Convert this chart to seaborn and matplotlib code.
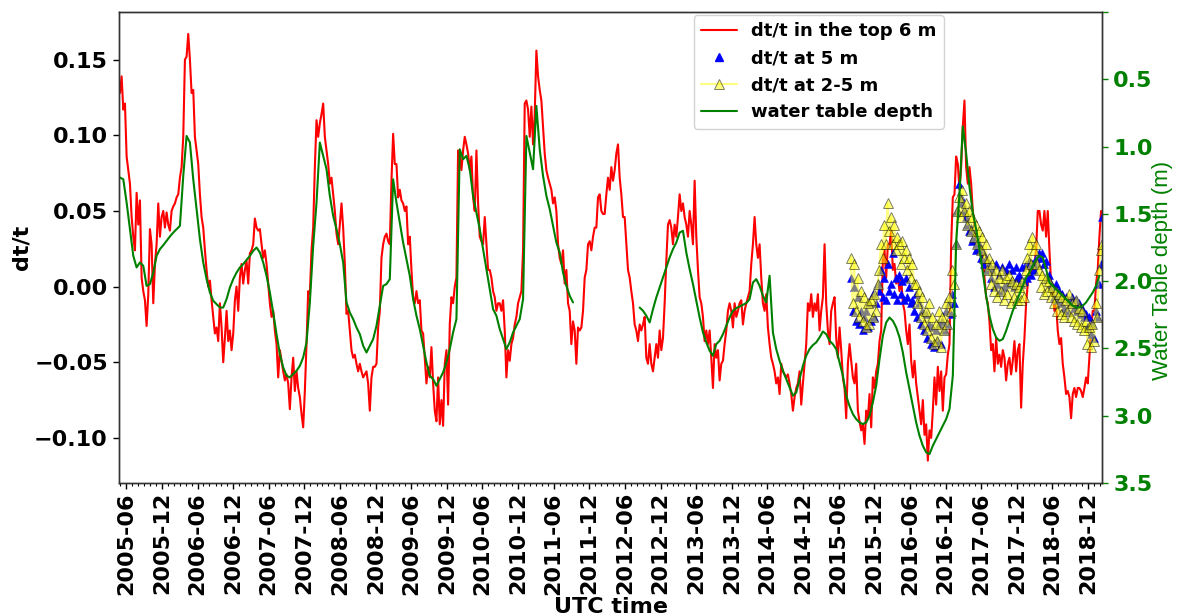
import numpy as np
import pandas as pd
import matplotlib
matplotlib.use("Agg")
import matplotlib.pyplot as plt
import matplotlib.dates as mdates
from matplotlib.lines import Line2D
import seaborn as sns

# ---------------------------------------------------------------------------
# Records (regularly sampled): start date and sampling step of each series
# ---------------------------------------------------------------------------
top6m_start, top6m_step = "2005-04-29", "205h"     # ~8.5 days
wt_start, wt_step = "2005-04-29", "410h"           # ~17 days
probe_start, probe_step = "2015-08-03", "205h"     # ~8.5 days

# dt/t averaged over the top 6 m
dtt_top6m = [
    0.128, 0.139, 0.117,
    0.121, 0.086, 0.077, 0.068, 0.046, 0.033, 0.024, 0.062, 0.041, 0.057,
    0.006, -0.003, -0.009, -0.026, -0.005, 0.038, 0.028, -0.011, 0.015, 0.028,
    0.055, 0.033, 0.046, 0.050, 0.039, 0.049, 0.041, 0.037, 0.050, 0.053,
    0.055, 0.059, 0.061, 0.072, 0.079, 0.099, 0.150, 0.152, 0.167, 0.150,
    0.128, 0.130, 0.099, 0.090, 0.081, 0.061, 0.046, 0.039, 0.024, 0.011,
    0.000, 0.004, -0.009, -0.020, -0.031, -0.027, -0.036, -0.011, -0.027, -0.050,
    -0.034, -0.016, -0.036, -0.029, -0.042, -0.031, -0.009, 0.000, -0.016, 0.006,
    0.015, 0.002, 0.011, 0.017, 0.002, 0.022, 0.024, 0.028, 0.045, 0.039,
    0.037, 0.038, 0.028, 0.019, 0.024, 0.015, 0.002, -0.011, -0.020, -0.016,
    -0.029, -0.038, -0.060, -0.042, -0.049, -0.056, -0.062, -0.058, -0.064, -0.081,
    -0.060, -0.047, -0.069, -0.056, -0.067, -0.073, -0.084, -0.093, -0.069, -0.038,
    -0.003, -0.005, 0.024, 0.039, 0.079, 0.110, 0.099, 0.108, 0.114, 0.121,
    0.099, 0.090, 0.081, 0.068, 0.072, 0.061, 0.050, 0.035, 0.028, 0.041,
    0.055, 0.039, 0.015, -0.018, -0.016, -0.029, -0.042, -0.047, -0.045, -0.051,
    -0.056,
    -0.051, -0.056, -0.060, -0.058, -0.056, -0.064, -0.082, -0.060, -0.053, -0.053,
    -0.051, -0.027, -0.016, 0.019, 0.028, 0.033, 0.035, 0.030, 0.028, 0.070,
    0.101, 0.081, 0.081, 0.059, 0.064, 0.057, 0.055, 0.050, 0.053, 0.028,
    0.033, 0.011, -0.007, -0.011, -0.003, -0.011, -0.009, -0.029, -0.031, -0.047,
    -0.064, -0.053, -0.060, -0.040, -0.064, -0.082, -0.089, -0.060, -0.091, -0.075,
    -0.092, -0.051, -0.042, -0.078, -0.025, -0.007, -0.011, 0.000, 0.006, 0.090,
    0.086, 0.077, 0.090, 0.099, 0.094, 0.088, 0.077, 0.086, 0.059, 0.050,
    0.090, 0.055, 0.033, 0.030, 0.028, 0.046, 0.028, 0.011, 0.011, 0.006,
    -0.003, -0.007, -0.016, -0.011, -0.011, -0.016, -0.009, -0.029, -0.060, -0.042,
    -0.049, -0.038, -0.034, -0.025, -0.020, -0.011, -0.007, -0.003, 0.024, 0.121,
    0.123, 0.117, 0.099, 0.119, 0.094, 0.114, 0.156, 0.139, 0.130, 0.123,
    0.106, 0.088, 0.077, 0.072, 0.068, 0.064, 0.055, 0.059, 0.050, 0.028,
    0.019, 0.015, 0.024, 0.002, 0.011, -0.011, -0.016, -0.038, -0.023, -0.029,
    -0.051, -0.027, -0.029, -0.027, -0.016, 0.006, 0.011, 0.028, 0.030, 0.024,
    0.033, 0.039, 0.039, 0.059, 0.061, 0.050, 0.048,
    0.048, 0.061, 0.072, 0.064, 0.079, 0.070, 0.077, 0.088, 0.094, 0.072,
    0.061, 0.046, 0.046, 0.028, 0.011, 0.006, -0.003, -0.011, -0.025, -0.029,
    -0.036, -0.025, -0.029, -0.025, -0.020, -0.047, -0.051, -0.038, -0.051, -0.056,
    -0.047, -0.038, -0.047, -0.029, -0.042, -0.034, -0.011, 0.017, 0.041, 0.044,
    0.039, 0.028, 0.041, 0.033, 0.046, 0.061, 0.050, 0.055, 0.046, 0.041,
    0.033, 0.050, 0.041, 0.028, 0.070, 0.033, 0.011, -0.007, -0.011, -0.020,
    -0.036, -0.029, -0.038, -0.029, -0.047, -0.067, -0.038, -0.047, -0.042, -0.062,
    -0.051, -0.049, -0.038, -0.029, -0.016, -0.011, -0.016, -0.027, -0.011, -0.020,
    -0.016, -0.011, -0.009, -0.025, -0.016, -0.011, -0.007, -0.003, 0.015, 0.028,
    0.046, 0.028, 0.019, 0.028, 0.006, -0.011, -0.016, -0.005, -0.027, -0.038,
    -0.047, -0.051, -0.056, -0.064, -0.060, -0.071, -0.051, -0.056, -0.058, -0.060,
    -0.058, -0.064, -0.071, -0.082, -0.073, -0.067, -0.064, -0.056, -0.078, -0.064,
    -0.051, -0.038, -0.011, -0.016, -0.005, -0.020, -0.011, -0.016, -0.005, -0.029,
    -0.016, -0.007, 0.028, -0.011, -0.029, -0.038, -0.016, -0.011, -0.007, -0.034,
    -0.047, -0.027, -0.042, -0.060, -0.067, -0.087, -0.051,
    -0.038, -0.049, -0.060, -0.064, -0.051, -0.082, -0.089, -0.095, -0.091, -0.104,
    -0.082, -0.087, -0.071, -0.093, -0.060, -0.067, -0.056, -0.051, -0.036, -0.029,
    0.019, 0.024, 0.006, 0.028, 0.028, 0.037, 0.011, 0.015, 0.002, 0.006,
    -0.003, 0.006, -0.011, -0.016, -0.029, -0.038, -0.025, -0.049, -0.060, -0.049,
    -0.064, -0.073, -0.082, -0.091, -0.075, -0.098, -0.091, -0.115, -0.095, -0.100,
    -0.082, -0.060, -0.078, -0.053, -0.069, -0.056, -0.082, -0.060, -0.058, -0.045,
    -0.038, 0.028, 0.059, 0.061, 0.086, 0.081, 0.064, 0.079, 0.106, 0.123,
    0.079, 0.068, 0.079, 0.068, 0.050, 0.041, 0.037, 0.028, 0.030, 0.024,
    0.019, 0.006, -0.007, -0.011, -0.023, -0.042, -0.038, -0.056, -0.034, -0.051,
    -0.045, -0.053, -0.042, -0.047, -0.062, -0.051, -0.047, -0.058, -0.049, -0.036,
    -0.056, -0.042, -0.038, -0.080, -0.051, -0.034, -0.011, 0.002, 0.011, 0.008,
    0.015, 0.015, 0.024, 0.050, 0.050, 0.041, 0.037, 0.050, 0.033, 0.050,
    0.024, 0.002, -0.005, -0.016, -0.011, -0.029, -0.038, -0.034, -0.051, -0.060,
    -0.071, -0.069, -0.073, -0.087, -0.071, -0.067, -0.073, -0.067, -0.067, -0.069,
    -0.073, -0.067, -0.060, -0.064, -0.047, -0.029, -0.016, -0.016, 0.002, 0.011,
    0.033, 0.050,
]

# water table depth (m); nan marks the gap in the record
nan = np.nan
water_table_depth = [
    1.230, 1.243, 1.416, 1.614, 1.812, 1.898, 1.861, 1.886, 2.035, 2.022,
    1.936, 1.812, 1.762, 1.733, 1.700, 1.668, 1.639, 1.614, 1.589, 1.218,
    0.921, 0.970, 1.243, 1.465, 1.688, 1.861, 1.985, 2.084, 2.146, 2.171,
    2.196, 2.196, 2.134, 2.047, 1.985, 1.936, 1.898, 1.874, 1.842, 1.812,
    1.775, 1.750, 1.787, 1.861, 1.960, 2.084, 2.233, 2.394, 2.542, 2.641,
    2.703, 2.715, 2.691, 2.666, 2.629, 2.567, 2.455, 2.158, 1.738, 1.416,
    0.970, 1.069, 1.168, 1.366, 1.515, 1.614, 1.725, 1.861, 2.158, 2.233,
    2.282, 2.344, 2.394, 2.480, 2.530, 2.480, 2.431, 2.332, 2.183, 2.035,
    2.022, 1.985, 1.243, 1.416, 1.564, 1.713, 1.837, 1.960, 2.134, 2.257,
    2.356, 2.480, 2.604, 2.703, 2.728, 2.777, 2.728, 2.678, 2.604, 2.505,
    2.381, 2.282, 1.020, 1.094, 1.069, 1.168, 1.366, 1.490, 1.614, 1.762,
    1.911, 2.059, 2.208, 2.257, 2.356, 2.431, 2.505, 2.455, 2.381, 2.332,
    2.282, 2.134, 0.921, 1.045, 1.168, 0.698, 1.020, 1.218, 1.366, 1.465,
    1.589, 1.713, 1.787, 1.936, 2.035, 2.109, 2.158,
    nan, nan, nan, nan, nan, nan, nan, nan, nan, nan,
    nan, nan, nan, nan, nan, nan, nan, nan, nan,
    2.196, 2.220, 2.257, 2.307, 2.208, 2.121, 2.047, 1.973, 1.898, 1.824,
    1.762, 1.713, 1.639, 1.626, 1.787, 1.911, 2.022, 2.146, 2.270, 2.381,
    2.455, 2.517, 2.554, 2.468, 2.443, 2.394, 2.332, 2.270, 2.220, 2.200,
    2.188, 2.176, 2.163, 2.134, 2.010, 1.985, 2.035, 2.109, 2.158, 1.960,
    2.381, 2.505, 2.592, 2.666, 2.728, 2.790, 2.851, 2.827, 2.728, 2.629,
    2.554, 2.505, 2.475, 2.455, 2.418, 2.374, 2.394, 2.443, 2.468, 2.505,
    2.604, 2.703, 2.851,
    2.928, 2.988, 3.025, 3.050, 3.062, 3.050, 3.000, 2.901, 2.777, 2.579,
    2.406, 2.307, 2.270, 2.295, 2.344, 2.418, 2.530, 2.678, 2.802, 2.926,
    3.050, 3.149, 3.223, 3.272, 3.285, 3.223, 3.173, 3.124, 3.074, 3.025,
    2.950, 2.703, 1.713, 1.350, 0.850, 1.050, 1.300, 1.490, 1.614, 1.762,
    1.936, 2.109, 2.257, 2.356, 2.418, 2.443, 2.431, 2.369, 2.295, 2.220,
    2.158, 2.097, 2.035, 1.973, 1.936, 1.886, 1.837, 1.812, 1.824, 1.911,
    2.010, 2.035, 2.059, 2.084, 2.109, 2.134, 2.158, 2.183, 2.196, 2.196,
    2.183, 2.158, 2.121, 2.084, 2.035, 1.960,
]

# dt/t at 5 m
dtt_5m = [
    0.006, -0.016, 0.000, -0.023, -0.007,
    -0.025, -0.016, -0.029, -0.020, -0.016, -0.027, -0.011, -0.023,
    -0.005, -0.020, -0.011, 0.002,
    -0.003, 0.011, -0.007, 0.006, -0.009, 0.015, -0.003, 0.002, 0.022, -0.005,
    0.006, -0.009, 0.008, -0.005, 0.004, -0.009, 0.006, -0.007, 0.000, -0.011,
    -0.009, -0.016, -0.005, -0.020, -0.011, -0.025, -0.016, -0.029, -0.018, -0.034,
    -0.025, -0.038, -0.027, -0.040, -0.029, -0.036, -0.025, -0.038, -0.023, -0.029,
    -0.016, -0.025, -0.011, -0.018,
    -0.005, -0.011, 0.028, 0.050, 0.068, 0.059,
    0.055, 0.050, 0.046, 0.041, 0.037, 0.039, 0.030, 0.033, 0.024, 0.028,
    0.028, 0.019, 0.024, 0.015, 0.019, 0.011, 0.015, 0.006,
    0.011, 0.000, 0.015, 0.002, 0.008, -0.003, 0.013, 0.000, 0.011, 0.002,
    0.015, 0.004, 0.011, 0.000, 0.013, 0.006,
    0.008, 0.002, 0.013, 0.004, 0.015, 0.006, 0.017, 0.008, 0.015, 0.011,
    0.019, 0.015, 0.022, 0.019, 0.022, 0.015, 0.017, 0.006, 0.008, 0.002,
    0.000, -0.007, 0.002, -0.009, -0.003, -0.011, -0.005, -0.014, -0.007, -0.016,
    -0.009, -0.011, -0.007, -0.014, -0.009, -0.016, -0.011, -0.018, -0.014, -0.020,
    -0.018, -0.027, -0.020, -0.031, -0.025, -0.034, -0.016, -0.020,
    0.002, 0.015, 0.046,
]

# dt/t at 2-5 m
dtt_2to5m = [
    0.019, -0.011, 0.015, -0.016, 0.006, -0.020, -0.003,
    -0.023, -0.007, -0.027, -0.011, -0.025, -0.009, -0.020, -0.005, -0.016, 0.002,
    0.011, 0.028, 0.019, 0.041, 0.028, 0.055, 0.037, 0.046, 0.028, 0.041,
    0.024, 0.033,
    0.028, 0.015, 0.030, 0.019, 0.024, 0.011, 0.019, 0.006, 0.015, 0.002,
    0.002, -0.011, -0.003, -0.020, -0.007, -0.025, -0.016, -0.029, -0.011, -0.034,
    -0.020, -0.038, -0.025, -0.036, -0.016, -0.040, -0.020, -0.029, -0.011, -0.025,
    -0.007, -0.016,
    0.011, 0.002, 0.028, 0.050,
    0.059, 0.046, 0.064, 0.050, 0.055, 0.041, 0.050, 0.037, 0.046, 0.033,
    0.041, 0.028, 0.037, 0.024, 0.033, 0.019,
    0.028, 0.011, 0.019, 0.002, 0.015, -0.003, 0.011, -0.007, 0.006, -0.003,
    0.011, -0.009, 0.006, -0.005, 0.008, -0.011, 0.004, -0.007, 0.002, -0.009,
    0.000, -0.009, 0.004, -0.007, 0.011, 0.019, 0.028, 0.015, 0.033, 0.024,
    0.028, 0.015,
    0.011, 0.000, 0.008, -0.005, 0.006, -0.003, 0.004, -0.007,
    0.000, -0.011, -0.003, -0.016, -0.005, -0.018, -0.007, -0.020, -0.009, -0.016,
    -0.005, -0.020, -0.011, -0.023, -0.009, -0.025, -0.014, -0.027, -0.016, -0.029,
    -0.023, -0.038, -0.027, -0.040, -0.025, -0.036, -0.011, -0.020,
    0.011, 0.024, 0.028,
]

# axes extents and ticks
time_limits = ("2005-04-24", "2019-02-11")
dtt_limits = (-0.1298, 0.1815)
depth_limits = (3.5, 0.0)
dtt_ticks = [-0.10, -0.05, 0.00, 0.05, 0.10, 0.15]
depth_ticks = [0.0, 0.5, 1.0, 1.5, 2.0, 2.5, 3.0, 3.5]
depth_tick_labels = ["", "0.5", "1.0", "1.5", "2.0", "2.5", "3.0", "3.5"]

labels = {
    "top6m": "dt/t in the top 6 m",
    "at5m": "dt/t at 5 m",
    "at2to5m": "dt/t at 2-5 m",
    "wt": "water table depth",
}

# ---------------------------------------------------------------------------
# Tables
# ---------------------------------------------------------------------------
top6 = pd.DataFrame({
    "time": pd.date_range(top6m_start, periods=len(dtt_top6m), freq=top6m_step),
    "dtt": dtt_top6m,
})
wt = pd.DataFrame({
    "time": pd.date_range(wt_start, periods=len(water_table_depth), freq=wt_step),
    "depth": water_table_depth,
})
wt["segment"] = wt["depth"].isna().cumsum()
wt = wt.dropna()
p5 = pd.DataFrame({
    "time": pd.date_range(probe_start, periods=len(dtt_5m), freq=probe_step),
    "dtt": dtt_5m,
})
p25 = pd.DataFrame({
    "time": pd.date_range(probe_start, periods=len(dtt_2to5m), freq=probe_step),
    "dtt": dtt_2to5m,
})

# ---------------------------------------------------------------------------
# Figure
# ---------------------------------------------------------------------------
sns.set_theme(style="ticks")
plt.rcParams["font.family"] = ["DejaVu Sans"]
plt.rcParams["font.weight"] = "bold"
plt.rcParams["axes.labelweight"] = "bold"
plt.rcParams["text.color"] = "black"
plt.rcParams["axes.labelcolor"] = "black"
plt.rcParams["xtick.color"] = "black"
plt.rcParams["ytick.color"] = "black"

fig = plt.figure(figsize=(11.91, 6.16), dpi=100)
ax = fig.add_axes([0.0999, 0.2159, 0.8254, 0.7646])
ax2 = ax.twinx()

sns.lineplot(data=top6, x="time", y="dtt", ax=ax, color="red",
             linewidth=1.5, estimator=None, sort=False)
sns.scatterplot(data=p5, x="time", y="dtt", ax=ax, marker="^", color="blue",
                s=32, edgecolor="blue", linewidth=0.4, zorder=3)
sns.lineplot(data=p25, x="time", y="dtt", ax=ax, color="yellow",
             marker="^", markersize=6.5, markerfacecolor="yellow",
             markeredgecolor="black", markeredgewidth=0.7, alpha=0.5,
             linewidth=1.5, estimator=None, sort=False, zorder=4)
sns.lineplot(data=wt, x="time", y="depth", units="segment", estimator=None,
             ax=ax2, color="green", linewidth=1.5, sort=False)

# left axis
ax.set_xlim(pd.Timestamp(time_limits[0]), pd.Timestamp(time_limits[1]))
ax.set_ylim(*dtt_limits)
ax.set_yticks(dtt_ticks)
ax.set_yticklabels([f"{t:.2f}".replace("-", "\u2212") for t in dtt_ticks])
ax.xaxis.set_major_locator(mdates.MonthLocator(bymonth=[6, 12]))
ax.xaxis.set_minor_locator(mdates.MonthLocator())
ax.xaxis.set_major_formatter(mdates.DateFormatter("%Y-%m"))
ax.tick_params(axis="x", which="major", labelsize=16, rotation=90,
               length=4.5, width=1, direction="out", pad=2, colors="black")
ax.tick_params(axis="x", which="minor", length=2.5, width=0.8,
               direction="out", colors="black")
ax.tick_params(axis="y", labelsize=16, length=4.5, width=1,
               direction="out", colors="black")
for lbl in ax.get_xticklabels() + ax.get_yticklabels():
    lbl.set_fontweight("bold")
ax.set_xlabel("UTC time", fontsize=16, fontweight="bold", labelpad=2,
              color="black")
ax.set_ylabel("dt/t", fontsize=16, fontweight="bold", labelpad=2,
              color="black")

# right axis
ax2.set_ylim(*depth_limits)
ax2.set_yticks(depth_ticks)
ax2.set_yticklabels(depth_tick_labels)
ax2.tick_params(axis="y", colors="green", labelsize=16, length=4.5, width=1,
                direction="out")
for lbl in ax2.get_yticklabels():
    lbl.set_fontweight("bold")
ax2.set_ylabel("Water Table depth (m)", color="green", fontsize=16,
               fontweight="normal", family=["Liberation Sans", "DejaVu Sans"])
ax2.yaxis.set_label_coords(1.051, 0.452)

for spine in list(ax.spines.values()) + list(ax2.spines.values()):
    spine.set_color("0.2")
    spine.set_linewidth(1.0)

# combined legend
handles = [
    Line2D([], [], color="red", linewidth=1.5),
    Line2D([], [], color="blue", marker="^", linestyle="none", markersize=6),
    Line2D([], [], color="yellow", marker="^", markersize=6.5,
           markerfacecolor="yellow", markeredgecolor="black",
           markeredgewidth=0.7, alpha=0.5, linewidth=1.5),
    Line2D([], [], color="green", linewidth=1.5),
]
leg = ax2.legend(handles, [labels["top6m"], labels["at5m"], labels["at2to5m"], labels["wt"]],
                 loc="upper right", bbox_to_anchor=(0.8393, 0.9936),
                 borderaxespad=0.0, frameon=True, fancybox=True,
                 framealpha=0.85, edgecolor="0.8",
                 prop={"size": 13, "weight": "bold"})
for txt in leg.get_texts():
    txt.set_color("black")

fig.savefig("out.png", dpi=100)
